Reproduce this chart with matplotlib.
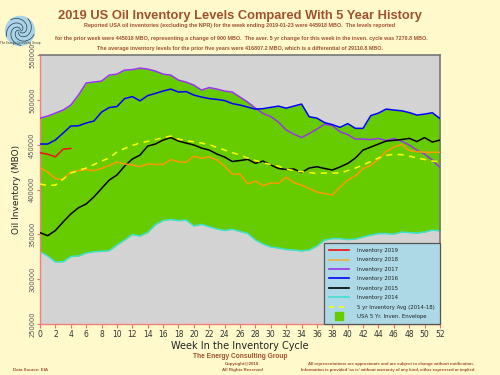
import numpy as np
import matplotlib
matplotlib.use("Agg")
import matplotlib.pyplot as plt
from matplotlib.lines import Line2D

weeks = np.arange(53)

inv_2019 = [441000, 439500, 436500, 445018, 445918]

inv_2018 = [424300, 419500, 412300, 411200, 419500, 421200, 422300, 421000, 423500, 426900,
            430700, 428700, 427400, 425500, 428500, 428100, 428100, 433500, 431000, 430400,
            437400, 434800, 436600, 433000, 426200, 417300, 417300, 406200, 409500, 404300,
            407300, 406900, 413900, 407700, 405000, 401000, 397200, 395500, 393900, 402700,
            410600, 415100, 423500, 426900, 434000, 442400, 447400, 450400, 443500, 442400,
            441600, 441600, 441600]

inv_2017 = [479700, 482000, 485300, 488700, 494250, 505400, 518800, 520000, 521000, 527700,
            528800, 533300, 533800, 535500, 534400, 532200, 528800, 527700, 522100, 519900,
            516500, 511000, 513800, 512100, 509900, 508800, 503200, 497600, 490900, 484800,
            481400, 475300, 466400, 461900, 458000, 462500, 467500, 473000, 471400, 464500,
            461400, 456300, 456300, 455800, 457100, 454700, 456900, 454100, 449700, 444000,
            439600, 433000, 424600]

inv_2016 = [450800, 450800, 455300, 463000, 470800, 471200, 474200, 476400, 486400, 491500,
            492600, 501500, 503700, 499000, 504800, 507300, 509900, 512100, 508800, 509300,
            505400, 503200, 501500, 500600, 499300, 495900, 494300, 492000, 489800, 490300,
            491700, 493100, 490800, 493100, 495400, 481200, 479700, 474700, 472500, 469400,
            473600, 468300, 468300, 482500, 485300, 489800, 488700, 487900, 485900, 483100,
            484200, 485700, 479200]

inv_2015 = [351900, 348500, 354300, 363800, 372700, 379700, 383900, 391700, 401200, 410600,
            416200, 426200, 434000, 438500, 448500, 450800, 455200, 458000, 454100, 451900,
            449700, 446300, 444100, 439600, 436300, 431300, 432400, 433700, 429300, 431800,
            427400, 423500, 422400, 422900, 419000, 424000, 425500, 423500, 421800, 425200,
            429100, 435200, 444100, 447400, 450800, 454100, 454900, 455800, 457100, 453600,
            458000, 453000, 455200]

inv_2014 = [330700, 325900, 319200, 319500, 325300, 325900, 329200, 330700, 331100, 331800,
            338100, 343700, 349800, 348200, 352100, 361000, 365500, 366600, 365300, 366000,
            359300, 361200, 358500, 356000, 354300, 355700, 353200, 351000, 343700, 339200,
            335900, 334800, 333100, 332600, 331500, 332600, 337000, 343700, 345300, 345300,
            344200, 344800, 347000, 349200, 350900, 350900, 350300, 352600, 352000, 351500,
            352600, 354800, 353700]

avg_5yr = [406200, 404500, 405000, 411700, 418400, 421200, 424000, 427900, 431800, 435200,
           441900, 445800, 449200, 451900, 453800, 455800, 458000, 459700, 456300, 454500,
           453300, 451900, 450000, 447100, 444100, 441300, 438500, 435200, 432400, 429900,
           427900, 426200, 422900, 421200, 419900, 419000, 418000, 418400, 418400, 418400,
           421200, 424000, 427400, 431300, 435200, 438200, 439300, 439000, 437400, 435200,
           433700, 431800, 431000]

x_ticks = list(range(0, 53, 2))
y_ticks = [250000, 300000, 350000, 400000, 450000, 500000, 550000]

BG = '#fff9cc'
BROWN = '#a0522d'
GREEN = '#66cc00'

fig = plt.figure(figsize=(5, 3.75), dpi=100, facecolor=BG)
ax = fig.add_axes([0.08, 0.136, 0.80, 0.717])
ax.set_facecolor('#d3d3d3')

years = np.array([inv_2014, inv_2015, inv_2016, inv_2017, inv_2018])
env_lo = years.min(axis=0)
env_hi = years.max(axis=0)
ax.fill_between(weeks, env_lo, env_hi, color=GREEN, lw=0, zorder=1)

lw = 1.1
ax.plot(weeks, inv_2014, color='#40e0d0', lw=lw, zorder=2)
ax.plot(weeks, inv_2017, color='#9933ee', lw=lw, zorder=3)
ax.plot(weeks, inv_2016, color='#0000ff', lw=lw, zorder=3)
ax.plot(weeks, inv_2015, color='#000000', lw=lw, zorder=3)
ax.plot(weeks, inv_2018, color='#ff9900', lw=lw, zorder=3)
ax.plot(weeks, avg_5yr, color='#ffff00', lw=lw, ls=(0, (4, 3.5)), zorder=4)
ax.plot(weeks[:len(inv_2019)], inv_2019, color='#ee1111', lw=lw, zorder=5)

ax.set_xlim(0, 52)
ax.set_ylim(250000, 550000)
ax.set_xticks(x_ticks)
ax.set_xticklabels([str(t) for t in x_ticks], fontsize=5.5, color='#333333')
ax.set_yticks(y_ticks)
ax.set_yticklabels([str(t) for t in y_ticks], fontsize=4.8, color='#555555',
                   rotation=90, va='center')
ax.tick_params(axis='x', colors='#f07070', length=3, width=0.8, pad=1.5, labelcolor='#333333')
ax.tick_params(axis='y', colors='#f07070', length=2, width=0.8, pad=1.5, labelcolor='#555555')
for s in ['left', 'bottom']:
    ax.spines[s].set_color('#f08080')
    ax.spines[s].set_linewidth(1.0)
for s in ['top', 'right']:
    ax.spines[s].set_color('#777777')
    ax.spines[s].set_linewidth(1.2)

ax.set_xlabel('Week In the Inventory Cycle', fontsize=7, color='#222222', labelpad=1)
ax.set_ylabel('Oil Inventory (MBO)', fontsize=6.5, color='#222222', labelpad=6)

handles = [
    Line2D([], [], color='#ee1111', lw=1.2),
    Line2D([], [], color='#f0b040', lw=1.2),
    Line2D([], [], color='#9933ee', lw=1.2),
    Line2D([], [], color='#0000ff', lw=1.2),
    Line2D([], [], color='#000000', lw=1.2),
    Line2D([], [], color='#40e0d0', lw=1.2),
    Line2D([], [], color='#ffff00', lw=1.2, ls=(0, (3, 3))),
    Line2D([], [], color=GREEN, marker='s', ls='none', markersize=5.5),
]
labels = ['Inventory 2019', 'Inventory 2018', 'Inventory 2017', 'Inventory 2016',
          'Inventory 2015', 'Inventory 2014', '5 yr Inventory Avg (2014-18)',
          'USA 5 Yr. Inven. Envelope']
leg = ax.legend(handles, labels, loc='lower right', bbox_to_anchor=(1.0, 0.0),
                borderaxespad=0, fontsize=3.9, frameon=True, fancybox=False,
                facecolor='#add8e6', edgecolor='#555555', framealpha=1,
                handlelength=3.6, handletextpad=1.6, labelspacing=0.82,
                borderpad=0.9)
leg.get_frame().set_linewidth(0.9)
leg.set_zorder(10)
for t in leg.get_texts():
    t.set_color('#222222')

fig.text(0.48, 0.957, '2019 US Oil Inventory Levels Compared With 5 Year History',
         ha='center', va='center', fontsize=9.3, fontweight='bold', color=BROWN,
         family='Liberation Sans')
sub = dict(ha='center', va='center', fontsize=3.9, fontweight='bold', color=BROWN,
           family='Liberation Sans')
fig.text(0.48, 0.931, 'Reported USA oil inventories (excluding the NPR) for the week ending 2019-01-23 were 445918 MBO.  The levels reported', **sub)
fig.text(0.482, 0.897, 'for the prior week were 445018 MBO, representing a change of 900 MBO.  The aver. 5 yr change for this week in the inven. cycle was 7270.8 MBO.', **sub)
fig.text(0.48, 0.871, 'The average inventory levels for the prior five years were 416807.2 MBO, which is a differential of 29110.8 MBO.', **sub)

# logo
lax = fig.add_axes([0.008, 0.875, 0.064, 0.085])
lax.set_xlim(-1.1, 1.1)
lax.set_ylim(-1.1, 1.1)
lax.set_aspect('equal')
lax.axis('off')
lax.add_patch(plt.Circle((0, 0), 1.0, color='#a8d4e6'))
for k in range(5):
    t = np.linspace(0, 2.2, 60)
    r = 0.08 + 0.42 * t
    a = t * 1.6 + k * 2 * np.pi / 5
    lax.plot(r * np.cos(a), r * np.sin(a), color='#2a3a50', lw=0.5)
fig.text(0.04, 0.886, 'The Energy Consulting Group', ha='center', va='center', fontsize=2.0,
         color='#333333')

foot = dict(ha='center', va='center', fontweight='bold', color=BROWN, family='Liberation Sans')
fig.text(0.48, 0.048, 'The Energy Consulting Group', fontsize=4.8, **foot)
fig.text(0.484, 0.029, 'Copyright@2018', fontsize=3.2, **foot)
fig.text(0.484, 0.013, 'All Rights Reserved', fontsize=3.2, **foot)
fig.text(0.026, 0.013, 'Data Source: EIA', fontsize=3.2, ha='left', va='center',
         fontweight='bold', color=BROWN, family='Liberation Sans')
fig.text(0.948, 0.029, 'All representations are approximate and are subject to change without notification.',
         fontsize=3.1, ha='right', va='center', fontweight='bold', color=BROWN, family='Liberation Sans')
fig.text(0.948, 0.013, "Information is provided 'as is' without warranty of any kind, either expressed or implied",
         fontsize=3.1, ha='right', va='center', fontweight='bold', color=BROWN, family='Liberation Sans')

fig.savefig('out.png', dpi=100, facecolor=BG)
